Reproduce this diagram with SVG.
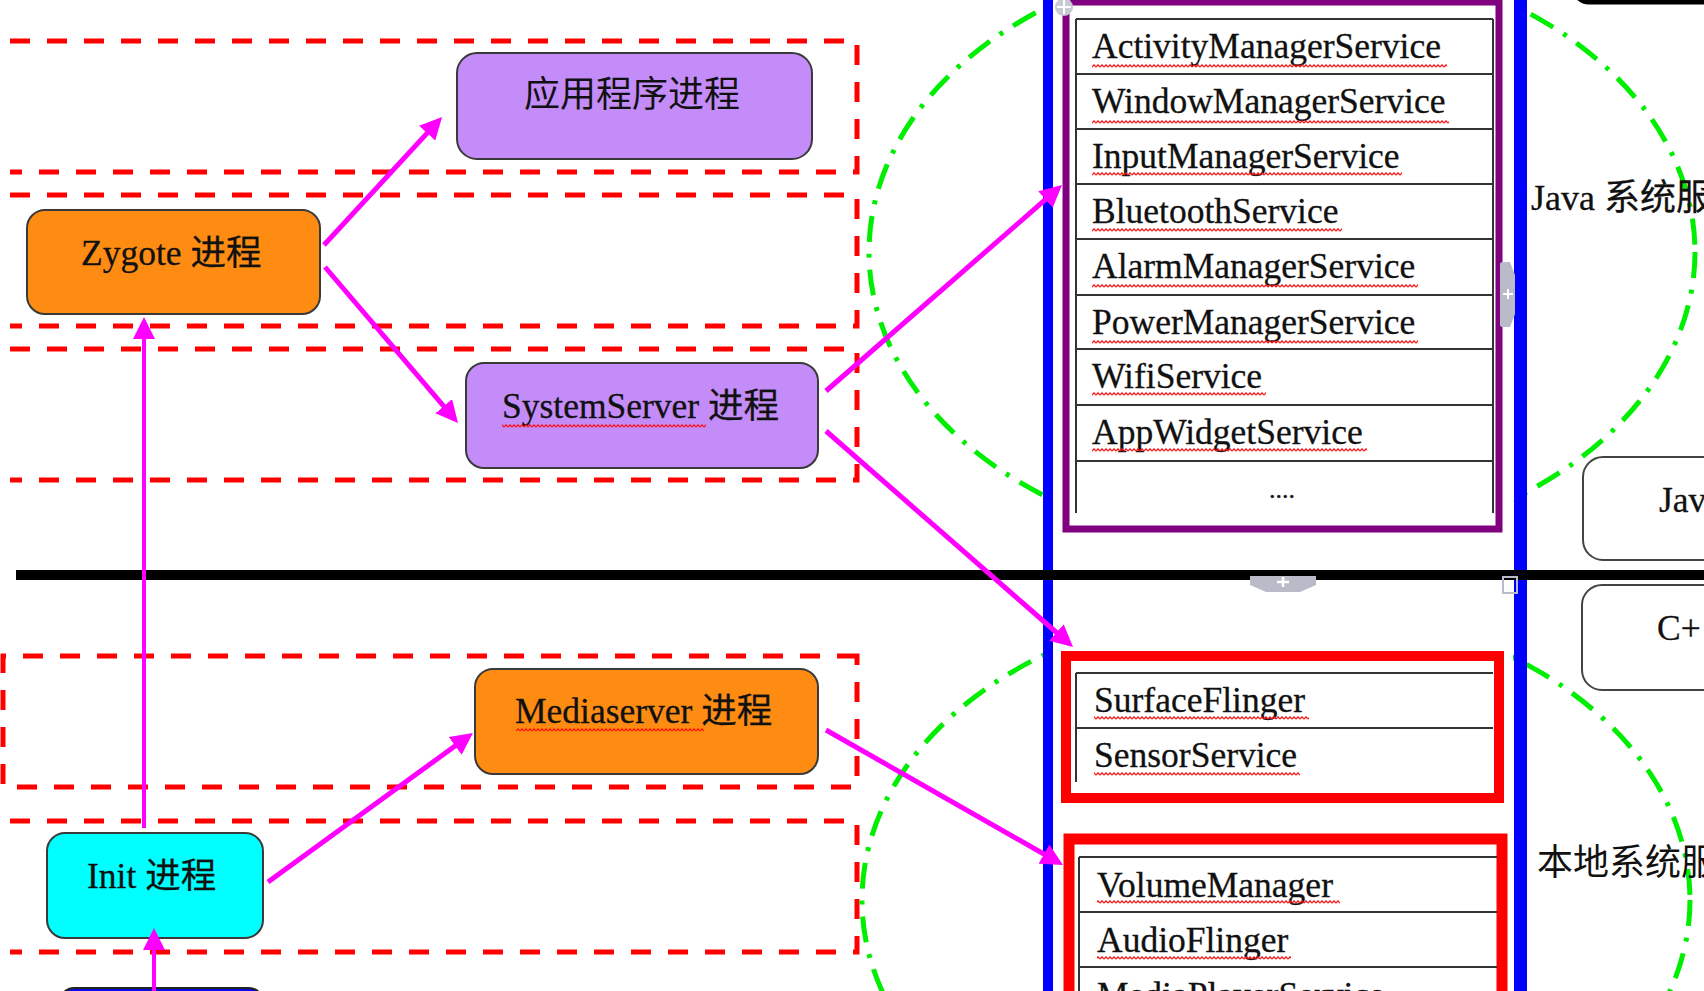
<svg xmlns="http://www.w3.org/2000/svg" width="1704" height="991" viewBox="0 0 1704 991">
<defs>
<style>
.band{fill:none;stroke:#FF0000;stroke-width:5;stroke-dasharray:20 17}
.ell{fill:none;stroke:#00EE00;stroke-width:5;stroke-dasharray:26 12 4 12}
.node{stroke:#3a3a3a;stroke-width:2}
.purple{fill:#C48CF9}
.orange{fill:#FF8C12}
.cyan{fill:#00FFFF}
.t{font-family:"Liberation Serif","Noto Sans CJK SC",serif;font-size:35.5px;fill:#111;stroke:#111;stroke-width:0.3}
.cjk{font-family:"Noto Sans CJK SC","Liberation Serif",sans-serif;fill:#111}
.row{stroke:#333;stroke-width:2;fill:none}
.conn{stroke:#FF00FF;stroke-width:5;fill:none;marker-end:url(#ah)}
.conn.thin{stroke-width:4}
.wavy{fill:url(#wavy)}
.rbox{fill:none;stroke:#FF0000;stroke-width:10}
.ui{fill:#B9BCC8}
</style>
<marker id="ah" markerUnits="userSpaceOnUse" markerWidth="22" markerHeight="22" refX="16" refY="11" orient="auto">
<path d="M0,0 L22,11 L0,22 z" fill="#FF00FF"/>
</marker>
<pattern id="wavy" patternUnits="userSpaceOnUse" width="4" height="4">
<path d="M0,3.2 L2,0.8 L4,3.2" fill="none" stroke="#FF1010" stroke-width="1.2"/>
</pattern>
</defs>
<rect width="1704" height="991" fill="#FFFFFF"/>

<g id="bands">
<path class="band" d="M10,41 H857 V172 H10"/>
<path class="band" d="M10,195 H857 V326 H10"/>
<path class="band" d="M10,349 H857 V480 H10"/>
<path class="band" d="M857,656 H3 V787 H857 Z"/>
<path class="band" d="M10,821 H857 V952 H10"/>
</g>

<g id="ellipses">
<ellipse class="ell" cx="1282" cy="252" rx="413" ry="298"/>
<ellipse class="ell" cx="1276" cy="900" rx="414" ry="296"/>
</g>

<g id="column">
<rect x="1053" y="0" width="460" height="991" fill="#FFFFFF"/>
<rect x="1043" y="0" width="10" height="991" fill="#0000FF"/>
<rect x="1514" y="0" width="13" height="991" fill="#0000FF"/>
</g>

<g id="java-services">
<rect x="1066" y="2" width="433" height="527" fill="#FFFFFF" stroke="#800080" stroke-width="7"/>
<path class="row" d="M1076,19 V513 M1493,19 V513 M1076,19 H1493 M1076,74 H1493 M1076,129 H1493 M1076,184 H1493 M1076,239 H1493 M1076,295 H1493 M1076,349 H1493 M1076,405 H1493 M1076,461 H1493"/>
<text class="t" x="1092" y="58">ActivityManagerService</text>
<text class="t" x="1092" y="113">WindowManagerService</text>
<text class="t" x="1092" y="168">InputManagerService</text>
<text class="t" x="1092" y="223">BluetoothService</text>
<text class="t" x="1092" y="278">AlarmManagerService</text>
<text class="t" x="1092" y="334">PowerManagerService</text>
<text class="t" x="1092" y="388">WifiService</text>
<text class="t" x="1092" y="444">AppWidgetService</text>
<text class="t" x="1282" y="498" text-anchor="middle" style="font-size:26px">....</text>
<rect class="wavy" x="1092" y="64" width="355" height="4"/>
<rect class="wavy" x="1092" y="120" width="357" height="4"/>
<rect class="wavy" x="1092" y="172" width="310" height="4"/>
<rect class="wavy" x="1092" y="228" width="250" height="4"/>
<rect class="wavy" x="1092" y="284" width="326" height="4"/>
<rect class="wavy" x="1092" y="340" width="326" height="4"/>
<rect class="wavy" x="1092" y="392" width="174" height="4"/>
<rect class="wavy" x="1092" y="448" width="275" height="4"/>
</g>

<g id="native-services-1">
<rect class="rbox" x="1066" y="656" width="433" height="142"/>
<path class="row" d="M1076,673 H1493 M1076,728 H1493 M1076,673 V782"/>
<text class="t" x="1094" y="712">SurfaceFlinger</text>
<text class="t" x="1094" y="767">SensorService</text>
<rect class="wavy" x="1094" y="716" width="215" height="4"/>
<rect class="wavy" x="1094" y="772" width="206" height="4"/>
</g>

<g id="native-services-2">
<rect class="rbox" x="1069" y="839" width="433" height="200" style="stroke-width:11"/>
<path class="row" d="M1079,857 H1497 M1079,912 H1497 M1079,967 H1497 M1079,857 V991"/>
<text class="t" x="1097" y="897">VolumeManager</text>
<text class="t" x="1097" y="952">AudioFlinger</text>
<text class="t" x="1097" y="1007">MediaPlayerService</text>
<rect class="wavy" x="1097" y="900" width="243" height="4"/>
<rect class="wavy" x="1097" y="956" width="194" height="4"/>
</g>

<g id="divider">
<rect x="16" y="570" width="1688" height="10" fill="#000000"/>
</g>

<g id="ui-handles">
<path class="ui" d="M1500,264 Q1500,262 1503,262 L1510,262 L1515,275 L1515,314 L1510,327 L1503,327 Q1500,327 1500,325 Z"/>
<path d="M1503,294 H1513 M1508,289 V299" stroke="#FFFFFF" stroke-width="2"/>
<path class="ui" d="M1250,576 H1316 V585 L1300,592 H1266 L1250,585 Z"/>
<path d="M1277,582 H1289 M1283,577 V587" stroke="#FFFFFF" stroke-width="2.5"/>
<rect x="1503" y="577" width="14" height="16" fill="none" stroke="#B9BCC8" stroke-width="2"/>
<circle cx="1064" cy="7" r="9" fill="#C8CAD4"/>
<path d="M1064,0 V14 M1057,7 H1071" stroke="#FFFFFF" stroke-width="2"/>
</g>

<g id="node-app">
<rect class="node purple" x="457" y="53" width="355" height="106" rx="20"/>
<text class="cjk" x="632" y="107" text-anchor="middle" style="font-size:36px">应用程序进程</text>
</g>

<g id="node-zygote">
<rect class="node orange" x="27" y="210" width="293" height="104" rx="18"/>
<text class="t" x="81" y="265">Zygote 进程</text>
</g>

<g id="node-systemserver">
<rect class="node purple" x="466" y="363" width="352" height="105" rx="18"/>
<text class="t" x="502" y="418">SystemServer 进程</text>
<rect class="wavy" x="502" y="424" width="204" height="4"/>
</g>

<g id="node-mediaserver">
<rect class="node orange" x="475" y="669" width="343" height="105" rx="18"/>
<text class="t" x="515" y="723">Mediaserver 进程</text>
<rect class="wavy" x="516" y="728" width="188" height="4"/>
</g>

<g id="node-init">
<rect class="node cyan" x="47" y="833" width="216" height="105" rx="18"/>
<text class="t" x="87" y="888">Init 进程</text>
</g>

<g id="node-bottom">
<rect x="60" y="988" width="203" height="40" rx="14" fill="#0A0AE6" stroke="#222" stroke-width="2"/>
</g>

<g id="right-side">
<rect x="1574" y="-60" width="200" height="62" rx="15" fill="#FFFFFF" stroke="#000" stroke-width="5"/>
<text class="t" x="1531" y="210" style="font-size:36px">Java 系统服</text>
<rect x="1583" y="457" width="200" height="103" rx="20" fill="#FFFFFF" stroke="#444" stroke-width="2"/>
<text class="t" x="1659" y="512">Jav</text>
<rect x="1582" y="585" width="200" height="105" rx="20" fill="#FFFFFF" stroke="#444" stroke-width="2"/>
<text class="t" x="1657" y="640">C+</text>
<text class="cjk" x="1537" y="875" style="font-size:36px">本地系统服</text>
</g>

<g id="connectors">
<line class="conn" x1="324" y1="245" x2="438" y2="121.4"/>
<line class="conn" x1="325" y1="267" x2="454.1" y2="418.4"/>
<line class="conn thin" x1="144" y1="828" x2="144" y2="323"/>
<line class="conn" x1="268" y1="882" x2="468.1" y2="736.5"/>
<line class="conn thin" x1="154" y1="991" x2="154" y2="934"/>
<line class="conn" x1="826" y1="391" x2="1057.5" y2="189"/>
<line class="conn" x1="826" y1="431" x2="1068.5" y2="643"/>
<line class="conn" x1="826" y1="730" x2="1057.8" y2="862"/>
</g>
</svg>
